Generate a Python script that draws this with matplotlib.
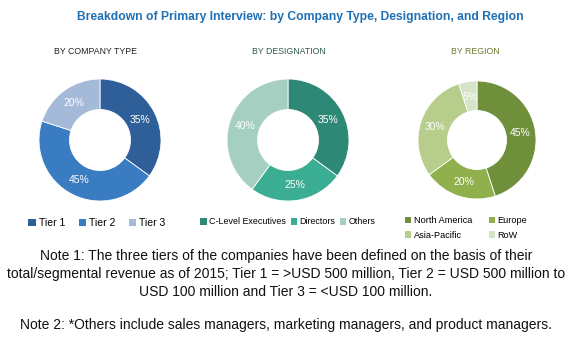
import numpy as np
import matplotlib
matplotlib.use("Agg")
import matplotlib.pyplot as plt
from matplotlib.patches import Patch

# Data
company_labels = ["Tier 1", "Tier 2", "Tier 3"]
company_values = [35, 45, 20]
company_colors = ["#2e5f98", "#3a7cc2", "#a5b9d8"]

designation_labels = ["C-Level Executives", "Directors", "Others"]
designation_values = [35, 25, 40]
designation_colors = ["#2e8876", "#3aad92", "#a5cfc1"]

region_labels = ["North America", "Europe", "Asia-Pacific", "RoW"]
region_values = [45, 20, 30, 5]
region_colors = ["#6f8f3b", "#8fb04c", "#b6cd8c", "#d7e3c8"]

W, H = 577, 341
fig = plt.figure(figsize=(W / 100, H / 100), dpi=100)
fig.patch.set_facecolor("white")

font = ["Liberation Sans", "DejaVu Sans"]


def donut(cx, cy, r, values, colors):
    ax = fig.add_axes([(cx - r) / W, 1 - (cy + r) / H, 2 * r / W, 2 * r / H])
    wedges, _ = ax.pie(values, colors=colors, startangle=90, counterclock=False,
                       radius=1.0, wedgeprops=dict(width=0.5, edgecolor="white",
                                                   linewidth=0.6))
    for w, v in zip(wedges, values):
        ang = np.deg2rad((w.theta1 + w.theta2) / 2)
        ax.text(0.74 * np.cos(ang), 0.74 * np.sin(ang), f"{v}%", ha="center",
                va="center", color="white", fontsize=7.5, family=font)
    ax.set_xlim(-1, 1)
    ax.set_ylim(-1, 1)
    ax.set_aspect("equal")
    ax.axis("off")
    return ax


donut(100, 140, 61, company_values, company_colors)
donut(288, 140, 61, designation_values, designation_colors)
donut(477, 140, 59, region_values, region_colors)

# Title and subtitles
fig.text(300 / W, 1 - 17 / H,
         "Breakdown of Primary Interview: by Company Type, Designation, and Region",
         ha="center", va="center", color="#1f6fb5", fontsize=8.7,
         fontweight="bold", family=font)
fig.text(96 / W, 1 - 51 / H, "BY COMPANY TYPE", ha="center", va="center",
         color="#222222", fontsize=6.3, family=font)
fig.text(289 / W, 1 - 51 / H, "BY DESIGNATION", ha="center", va="center",
         color="#2f5a4e", fontsize=6.3, family=font)
fig.text(475 / W, 1 - 51 / H, "BY REGION", ha="center", va="center",
         color="#6f7a30", fontsize=6.3, family=font)


def legend(x, y, labels, colors, ncol, size, colsp):
    handles = [Patch(facecolor=c, edgecolor="none") for c in colors]
    fig.legend(handles, labels, loc="center", bbox_to_anchor=(x / W, 1 - y / H),
               ncol=ncol, frameon=False, prop=dict(family=font, size=size),
               handlelength=0.7, handleheight=0.7, handletextpad=0.3,
               columnspacing=colsp, borderaxespad=0, borderpad=0,
               labelspacing=0.6)


legend(97, 223, company_labels, company_colors, 3, 7.5, 1.3)
legend(288, 222, designation_labels, designation_colors, 3, 6.4, 0.5)
# two rows: North America / Europe, Asia-Pacific / RoW
order = [0, 2, 1, 3]
legend(466, 228, [region_labels[i] for i in order],
       [region_colors[i] for i in order], 2, 6.6, 1.8)

# Notes
notes = [
    (256, "Note 1: The three tiers of the companies have been defined on the basis of their"),
    (274, "total/segmental revenue as of 2015; Tier 1 = >USD 500 million, Tier 2 = USD 500 million to"),
    (292, "USD 100 million and Tier 3 = <USD 100 million."),
    (325, "Note 2: *Others include sales managers, marketing managers, and product managers."),
]
for y, t in notes:
    fig.text(286 / W, 1 - y / H, t, ha="center", va="center", color="#111111",
             fontsize=10, family=font)

fig.savefig("out.png", dpi=100)
